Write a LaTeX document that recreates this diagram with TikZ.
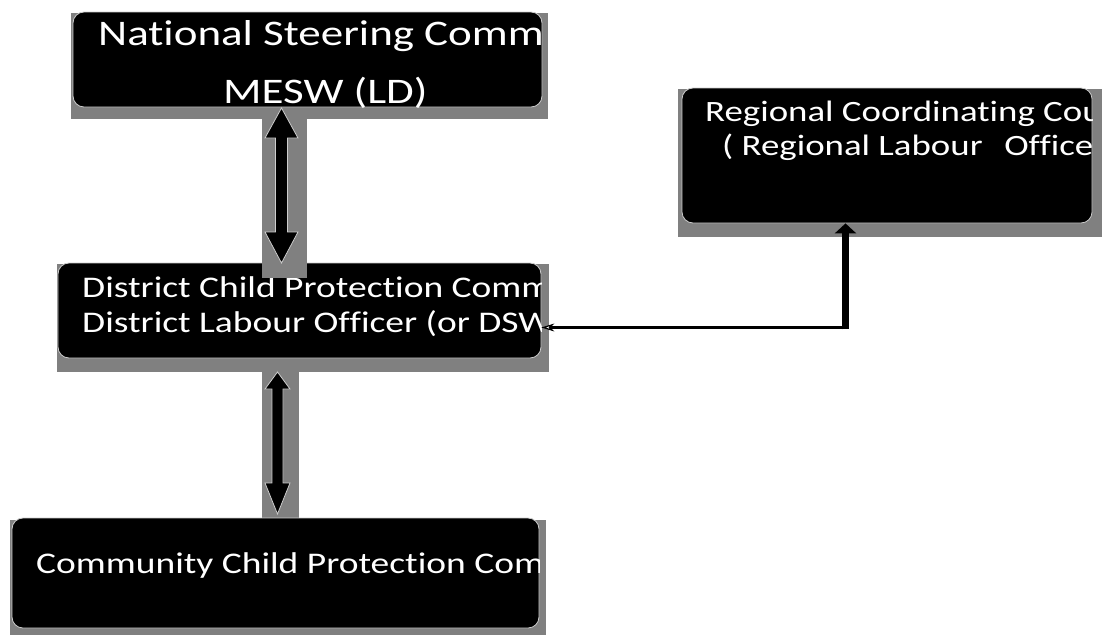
\documentclass[tikz,border=0pt]{standalone}
\usepackage{fontspec}
\newfontfamily\labelfont[FakeStretch=1.25, Ligatures=NoCommon]{Carlito}
\usetikzlibrary{arrows.meta}
\definecolor{shade}{RGB}{128,128,128}
\definecolor{rim}{RGB}{205,205,205}

\begin{document}
\begin{tikzpicture}[x=1pt,y=-1pt,
  unit/.style={draw=rim, line width=0.8pt, fill=black, rounded corners=11pt, inner sep=0pt},
  plate/.style={fill=shade},
  caption/.style={anchor=base west, inner sep=0pt, text=white,
    font=\labelfont\fontsize{#1}{#1}\selectfont},
  blockarrow/.style={fill=black, draw=rim, line width=0.8pt, line join=miter},
  link/.style={draw=black, line join=miter}
]
\path[use as bounding box] (0,0) rectangle (1103,635);

% grey drop plates behind the committees
\fill[plate] (71,13) rectangle (548,119);
\fill[plate] (678,89) rectangle (1102,237);
\fill[plate] (57,264) rectangle (549,372);
\fill[plate] (10,520) rectangle (546,635);
\fill[plate] (262,360) rectangle (299,519);

% committees
\node[unit, minimum width=469pt, minimum height=95pt]  (nat)  at (307.5,59.5) {};
\node[unit, minimum width=410pt, minimum height=135pt] (reg)  at (887,155.5) {};
\node[unit, minimum width=483pt, minimum height=95pt]  (dist) at (299.5,310.5) {};
\node[unit, minimum width=527pt, minimum height=110pt] (comm) at (275.5,573) {};

% labels, cut off at the right edge of their boxes
\begin{scope}
  \clip (nat.south west) rectangle (nat.north east);
  \node[caption=36] (natA) at (98,45)  {National Steering Comm};
  \node[caption=36] (natB) at (223,103) {MESW (LD)};
\end{scope}
\begin{scope}
  \clip (reg.south west) rectangle (reg.north east);
  \node[caption=29.5] (regA) at (705,121) {Regional Coordinating Cou};
  \node[caption=29.5] (regB) at (722,155) {( Regional Labour~~\,Office};
\end{scope}
\begin{scope}
  \clip (dist.south west) rectangle (dist.north east);
  \node[caption=30] (distA) at (82,297) {District Child Protection Comm};
  \node[caption=30] (distB) at (82,332) {District Labour Officer (or DSW};
\end{scope}
\begin{scope}
  \clip (comm.south west) rectangle (comm.north east);
  \node[caption=30] (commA) at (36,573) {Community Child Protection Com};
\end{scope}

% two-way block arrow: national <-> district
\fill[plate] (262,108) rectangle (307,278);
\path[blockarrow] (281.5,108) -- (298,138) -- (287.5,138) -- (287.5,232) -- (298,232)
  -- (281.5,263) -- (265,232) -- (275.5,232) -- (275.5,138) -- (265,138) -- cycle;

% two-way block arrow: district <-> community
\path[blockarrow] (277.5,372) -- (290,389) -- (283,389) -- (283,483) -- (290,483)
  -- (277.5,514) -- (265,483) -- (272,483) -- (272,389) -- (265,389) -- cycle;

% elbow link between the regional council and the district committee
\coordinate (bend) at (845.5,327.5);
\draw[link, line width=7pt, -{Triangle[width=21pt,length=10pt]}]
  (bend) ++(0,1.75) -- (bend |- reg.south);
\draw[link, line width=3.5pt, -{Stealth[width=8pt,length=13pt,inset=4pt,fill=white,line width=1.2pt]}]
  (bend) -- (bend -| dist.east);
\end{tikzpicture}
\end{document}
